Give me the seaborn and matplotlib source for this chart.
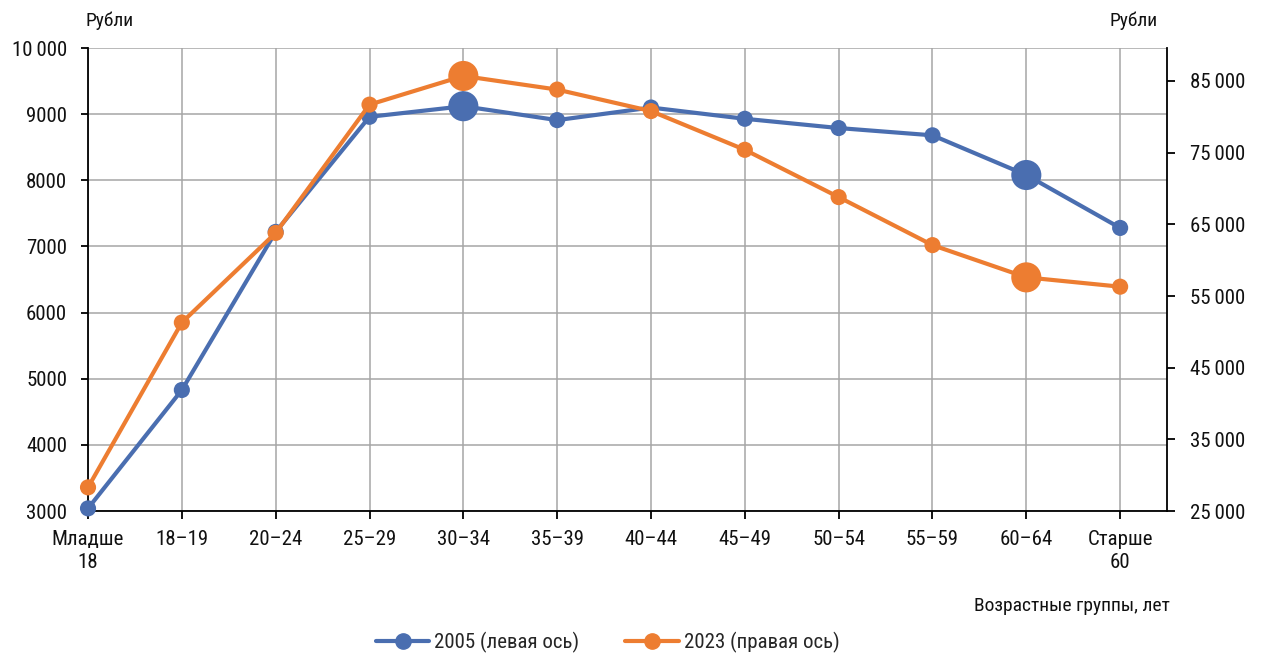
import matplotlib
matplotlib.use("Agg")
import matplotlib.pyplot as plt
from matplotlib.lines import Line2D
import seaborn as sns
import pandas as pd
import numpy as np

# Age groups and average wages
age_groups = ["Младше\n18", "18–19", "20–24", "25–29", "30–34", "35–39",
              "40–44", "45–49", "50–54", "55–59", "60–64", "Старше\n60"]
wage_2005 = [3040, 4830, 7220, 8960, 9120, 8910, 9100, 8930, 8790, 8680, 8080, 7280]
wage_2023 = [28300, 51300, 63800, 81700, 85700, 83800, 80800, 75400, 68800, 62100, 57600, 56300]
highlight = [False, False, False, False, True, False, False, False, False, False, True, False]

left_ticks = [3000, 4000, 5000, 6000, 7000, 8000, 9000, 10000]
left_tick_labels = ["3000", "4000", "5000", "6000", "7000", "8000", "9000", "10\u2009000"]
right_ticks = [25000, 35000, 45000, 55000, 65000, 75000, 85000]
right_tick_labels = ["25\u2009000", "35\u2009000", "45\u2009000", "55\u2009000",
                     "65\u2009000", "75\u2009000", "85\u2009000"]

label_2005 = "2005 (левая ось)"
label_2023 = "2023 (правая ось)"
unit_label = "Рубли"
x_title = "Возрастные группы, лет"

BLUE = "#4A6EB0"
ORANGE = "#ED7D31"
GRID = "#A6A6A6"
TEXT = "#111111"

sns.set_theme(style="white")
plt.rcParams["font.family"] = ["Roboto Condensed", "Roboto", "DejaVu Sans"]
plt.rcParams["axes.unicode_minus"] = False

df = pd.DataFrame({
    "pos": np.arange(len(age_groups)),
    "w2005": wage_2005,
    "w2023": wage_2023,
    "big": highlight,
})

fig = plt.figure(figsize=(12.61, 6.55), dpi=100)
ax = fig.add_axes([0.0698, 0.2198, 0.8557, 0.7069])
ax2 = ax.twinx()

marker_sizes = {False: 135, True: 470}

# 2005 series on the left axis
sns.lineplot(data=df, x="pos", y="w2005", ax=ax, color=BLUE, linewidth=3.0,
             legend=False, zorder=3)
sns.scatterplot(data=df, x="pos", y="w2005", ax=ax, size="big", sizes=marker_sizes,
                color=BLUE, edgecolor="none", legend=False, zorder=4)

# 2023 series on the right axis
sns.lineplot(data=df, x="pos", y="w2023", ax=ax2, color=ORANGE, linewidth=3.0,
             legend=False, zorder=3)
sns.scatterplot(data=df, x="pos", y="w2023", ax=ax2, size="big", sizes=marker_sizes,
                color=ORANGE, edgecolor="none", legend=False, zorder=4)

for a in (ax, ax2):
    a.set_xlim(0, len(age_groups) - 0.5)
    a.set_xlabel("")
    a.set_ylabel("")
    for sp in a.spines.values():
        sp.set_visible(False)
    for p in a.collections + a.lines:
        p.set_clip_on(False)

ax.set_ylim(3000, 10000)
ax2.set_ylim(25000, 89600)

# Grid
ax.set_yticks(left_ticks)
ax.set_yticklabels(left_tick_labels)
ax.set_xticks(df["pos"])
ax.set_xticklabels(age_groups, linespacing=1.25)
ax.grid(True, color=GRID, linewidth=1.1, zorder=0)
ax.set_axisbelow(True)

ax2.set_yticks(right_ticks)
ax2.set_yticklabels(right_tick_labels)

# Spines
ax.spines["left"].set_visible(True)
ax.spines["bottom"].set_visible(True)
ax2.spines["right"].set_visible(True)
for sp in (ax.spines["left"], ax.spines["bottom"], ax2.spines["right"]):
    sp.set_color("black")
    sp.set_linewidth(1.3)

ax.tick_params(axis="y", which="both", left=True, direction="out", length=5, width=1.3,
               color="black", labelsize=15, pad=10, labelcolor=TEXT)
ax.tick_params(axis="x", bottom=True, direction="out", length=6, width=1.3, color="black",
               labelsize=15, pad=8, labelcolor=TEXT)
ax2.tick_params(axis="y", right=True, direction="out", length=6, width=1.3, color="black",
                labelsize=15, pad=10.5, labelcolor=TEXT)

# Axis captions
fig.text(0.0675, 0.968, unit_label, fontsize=14, ha="left", va="center", color=TEXT)
fig.text(0.918, 0.968, unit_label, fontsize=14, ha="right", va="center", color=TEXT)
fig.text(0.928, 0.075, x_title, fontsize=14, ha="right", va="center", color=TEXT)

# Legend
handles = [
    Line2D([], [], color=BLUE, linewidth=3.0, marker="o", markersize=11),
    Line2D([], [], color=ORANGE, linewidth=3.0, marker="o", markersize=11),
]
fig.legend(handles, [label_2005, label_2023], loc="center", bbox_to_anchor=(0.482, 0.019),
           ncol=2, frameon=False, fontsize=15, handlelength=2.55, handletextpad=0.25,
           columnspacing=2.2)

fig.savefig("out.png", dpi=100)
